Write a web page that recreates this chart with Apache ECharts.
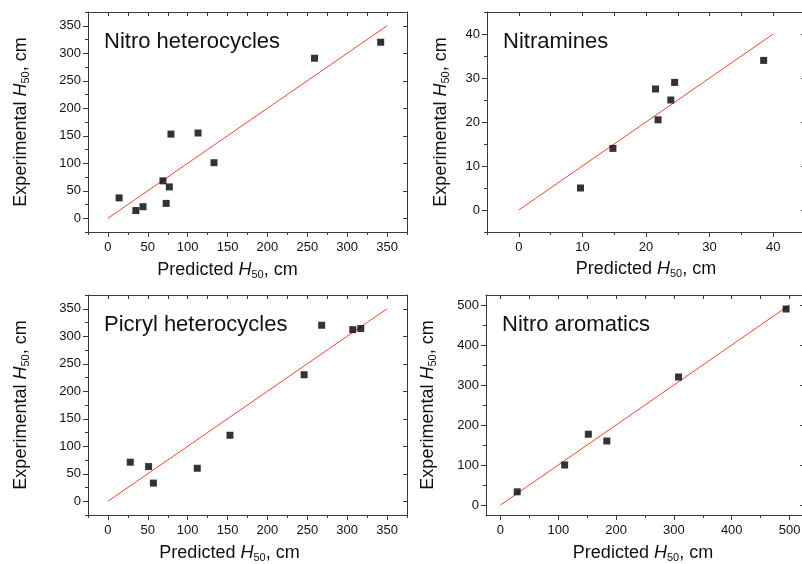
<!DOCTYPE html>
<html>
<head>
<meta charset="utf-8">
<script src="https://cdn.jsdelivr.net/npm/echarts@6/dist/echarts.min.js"></script>
<style>
  html, body { margin: 0; padding: 0; background: #fff; }
  #chart { width: 802px; height: 564px; }
</style>
</head>
<body>
<div id="chart"></div>
<script>
// [predicted, experimental]
const nitroHeterocycles = [[14, 37], [35, 14], [44, 21], [69, 68], [73, 27], [77, 57],
  [79, 153], [113, 155], [133, 101], [259, 291], [342, 320]]
const nitramines = [[9.7, 5], [14.8, 14], [21.5, 27.5], [21.9, 20.5], [23.9, 25], [24.5, 29], [38.5, 34]]
const picrylHeterocycles = [[28, 71], [51, 63], [57, 33], [112, 60], [153, 120], [246, 230],
  [268, 320], [307, 312], [317, 314]]
const nitroAromatics = [[29, 33], [111, 100], [152, 177], [184, 160], [308, 320], [494, 490]]

const panelTitles = ['Nitro heterocycles', 'Nitramines', 'Picryl heterocycles', 'Nitro aromatics']

const ticks350 = [0, 50, 100, 150, 200, 250, 300, 350]
const minor350 = [-25, 25, 75, 125, 175, 225, 275, 325, 375]
const ticks40 = [0, 10, 20, 30, 40]
const minor40 = [-5, 5, 15, 25, 35, 45]
const ticks500 = [0, 100, 200, 300, 400, 500]
const minor500 = [50, 150, 250, 350, 450]

const FONT = '"Liberation Sans", Arial, sans-serif'
const AXIS_COLOR = '#3a3a3a'
const TEXT_COLOR = '#111'

const panels = [
  { data: nitroHeterocycles, range: [-25, 375], major: ticks350, minor: minor350, fit: 350,
    grid: { left: 88, top: 12, width: 319, height: 220 }, yGap: 57, xGap: 28, xShift: 40 },
  { data: nitramines, range: [-5, 45], major: ticks40, minor: minor40, fit: 40,
    grid: { left: 487, top: 12, width: 318, height: 220 }, yGap: 36, xGap: 27, xShift: 0 },
  { data: picrylHeterocycles, range: [-25, 375], major: ticks350, minor: minor350, fit: 350,
    grid: { left: 88, top: 295, width: 319, height: 220 }, yGap: 57, xGap: 28, xShift: 36 },
  { data: nitroAromatics, range: [-25, 525], major: ticks500, minor: minor500, fit: 500,
    grid: { left: 486, top: 295, width: 318, height: 220 }, yGap: 48, xGap: 28, xShift: 4 }
]

const nameRich = {
  n: { fontSize: 18, lineHeight: 20, color: TEXT_COLOR, fontFamily: FONT },
  i: { fontSize: 18, lineHeight: 20, color: TEXT_COLOR, fontFamily: FONT, fontStyle: 'italic' },
  s: { fontSize: 11, lineHeight: 20, color: TEXT_COLOR, fontFamily: FONT, verticalAlign: 'top', padding: [9, 0, 0, 0] }
}

function axisSet(p, g, dim) {
  const side = dim === 'x' ? ['bottom', 'top'] : ['left', 'right']
  const base = {
    gridIndex: g, type: 'value', min: p.range[0], max: p.range[1],
    splitLine: { show: false }, silent: true
  }
  const name = dim === 'x'
    ? '{n|Predicted }{i|H}{s|50}{n|, cm}'
    : '{n|Experimental }{i|H}{s|50}{n|, cm}'
  return [
    Object.assign({}, base, {
      position: side[0],
      name: name,
      nameLocation: 'middle',
      nameGap: dim === 'x' ? p.xGap : p.yGap,
      nameMoveOverlap: false,
      nameTextStyle: { rich: nameRich, padding: dim === 'x' ? [0, p.xShift, 0, 0] : 0 },
      axisLine: { show: true, onZero: false, lineStyle: { color: AXIS_COLOR, width: 1 } },
      axisTick: { show: true, length: 5, customValues: p.major, lineStyle: { color: AXIS_COLOR } },
      axisLabel: { show: true, customValues: p.major, margin: dim === 'x' ? 9 : 7,
        fontSize: 13, color: TEXT_COLOR, fontFamily: FONT, hideOverlap: false }
    }),
    Object.assign({}, base, {
      position: side[0],
      axisLine: { show: false, onZero: false },
      axisTick: { show: true, length: 3, customValues: p.minor, lineStyle: { color: AXIS_COLOR } },
      axisLabel: { show: false }
    }),
    Object.assign({}, base, {
      position: side[1],
      axisLine: { show: true, onZero: false, lineStyle: { color: AXIS_COLOR, width: 1 } },
      axisTick: { show: true, inside: true, length: 4,
        customValues: dim === 'x' ? p.major.concat(p.minor) : p.major,
        lineStyle: { color: AXIS_COLOR } },
      axisLabel: { show: false }
    })
  ]
}

const grids = []
const xAxes = []
const yAxes = []
const series = []
const titles = []

panels.forEach(function (p, g) {
  grids.push(Object.assign({ outerBoundsMode: 'none', containLabel: false }, p.grid))
  xAxes.push.apply(xAxes, axisSet(p, g, 'x'))
  yAxes.push.apply(yAxes, axisSet(p, g, 'y'))
  titles.push({
    text: panelTitles[g],
    left: p.grid.left + 16,
    top: p.grid.top + 19,
    padding: 0,
    textStyle: { fontSize: 22, fontWeight: 'normal', color: TEXT_COLOR, fontFamily: FONT }
  })
  series.push({
    type: 'line',
    xAxisIndex: g * 3,
    yAxisIndex: g * 3,
    data: [[0, 0], [p.fit, p.fit]],
    showSymbol: false,
    symbol: 'none',
    lineStyle: { color: '#f5402f', width: 1 },
    silent: true,
    z: 2
  })
  series.push({
    type: 'scatter',
    xAxisIndex: g * 3,
    yAxisIndex: g * 3,
    data: p.data,
    symbol: 'rect',
    symbolSize: 7,
    itemStyle: { color: '#000' },
    silent: true,
    z: 3
  })
})

const chart = echarts.init(document.getElementById('chart'))
chart.setOption({
  animation: false,
  backgroundColor: '#fff',
  title: titles,
  grid: grids,
  xAxis: xAxes,
  yAxis: yAxes,
  series: series
})
</script>
</body>
</html>
